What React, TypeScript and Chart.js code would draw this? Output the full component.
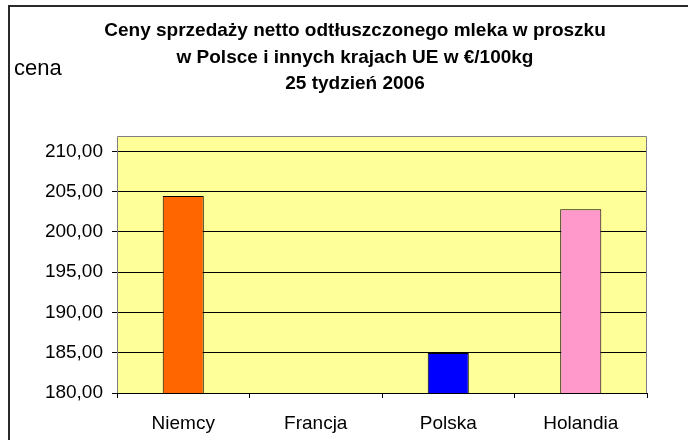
import React, { useEffect, useRef } from "react";
import { Chart, registerables } from "chart.js";

Chart.register(...registerables);

const categories = ["Niemcy", "Francja", "Polska", "Holandia"];
const prices: (number | null)[] = [204.45, null, 184.95, 202.8];
const barColors = ["#FF6600", "#FFFFFF", "#0000FF", "#FF99CC"];
const yTicks = [180, 185, 190, 195, 200, 205, 210];
const titleLines = [
  "Ceny sprzedaży netto odtłuszczonego mleka w proszku",
  "w Polsce i innych krajach UE w €/100kg",
  "25 tydzień 2006",
];
const axisLabel = "cena";

const FONT = '"Liberation Sans", Arial, sans-serif';

export default function App() {
  const ref = useRef<HTMLCanvasElement | null>(null);

  useEffect(() => {
    if (!ref.current) return;
    const decor = {
      id: "decor",
      beforeDraw(chart: any) {
        const { ctx, chartArea } = chart;
        ctx.save();
        ctx.fillStyle = "#FFFFFF";
        ctx.fillRect(0, 0, chart.width, chart.height);
        ctx.fillStyle = "#FFFF99";
        ctx.fillRect(
          chartArea.left,
          chartArea.top,
          chartArea.right - chartArea.left,
          chartArea.bottom - chartArea.top
        );
        ctx.restore();
      },
      afterDatasetsDraw(chart: any) {
        const { ctx, chartArea } = chart;
        ctx.save();
        ctx.strokeStyle = "#808080";
        ctx.lineWidth = 1;
        ctx.beginPath();
        ctx.moveTo(chartArea.left + 0.5, chartArea.bottom);
        ctx.lineTo(chartArea.left + 0.5, chartArea.top + 0.5);
        ctx.lineTo(chartArea.right - 0.5, chartArea.top + 0.5);
        ctx.lineTo(chartArea.right - 0.5, chartArea.bottom);
        ctx.stroke();
        ctx.strokeStyle = "#000000";
        ctx.beginPath();
        ctx.moveTo(chartArea.left, chartArea.bottom + 0.5);
        ctx.lineTo(chartArea.right, chartArea.bottom + 0.5);
        ctx.stroke();
        ctx.restore();
      },
      afterDraw(chart: any) {
        const { ctx } = chart;
        ctx.save();
        ctx.fillStyle = "#2a2a2a";
        ctx.fillRect(8, 5, 2, chart.height - 5);
        ctx.fillRect(8, 5, chart.width - 8, 2);
        ctx.fillStyle = "#000000";
        ctx.textAlign = "center";
        ctx.textBaseline = "alphabetic";
        ctx.font = `bold 19px ${FONT}`;
        const baselines = [36, 62.5, 89];
        titleLines.forEach((t, i) => ctx.fillText(t, 355, baselines[i]));
        ctx.textAlign = "left";
        ctx.font = `22px ${FONT}`;
        ctx.fillText(axisLabel, 14, 75);
        ctx.restore();
      },
    };

    const chart = new Chart(ref.current, {
      type: "bar",
      data: {
        labels: categories,
        datasets: [
          {
            data: prices as any,
            backgroundColor: barColors,
            borderColor: "#000000",
            borderWidth: 1,
            barPercentage: 0.31,
            categoryPercentage: 1,
          },
        ],
      },
      options: {
        responsive: false,
        animation: false,
        devicePixelRatio: 1,
        layout: { padding: { left: 0, top: 136, right: 41, bottom: 0 } },
        plugins: {
          legend: { display: false },
          tooltip: { enabled: false },
          title: { display: false },
        },
        scales: {
          x: {
            afterFit: (s: any) => {
              s.height = 47;
            },
            grid: {
              drawOnChartArea: false,
              drawTicks: true,
              tickLength: 5,
              color: "#000000",
              offset: true,
            },
            border: { display: false },
            ticks: {
              color: "#000000",
              font: { family: FONT, size: 19 },
              padding: 14,
              maxRotation: 0,
            },
          },
          y: {
            min: 180,
            max: 211.9,
            afterBuildTicks: (axis: any) => {
              axis.ticks = yTicks.map((v) => ({ value: v }));
            },
            afterFit: (s: any) => {
              s.width = 117;
            },
            grid: {
              color: "#000000",
              lineWidth: 1,
              tickLength: 5,
              drawTicks: true,
            },
            border: { display: false },
            ticks: {
              color: "#000000",
              font: { family: FONT, size: 19 },
              padding: 9,
              callback: (v: any) => Number(v).toFixed(2).replace(".", ","),
            },
          },
        },
      },
      plugins: [decor],
    });
    return () => chart.destroy();
  }, []);

  return (
    <div style={{ position: "absolute", left: 0, top: 0, width: 688, height: 440 }}>
      <canvas ref={ref} width={688} height={440} style={{ display: "block" }} />
    </div>
  );
}
